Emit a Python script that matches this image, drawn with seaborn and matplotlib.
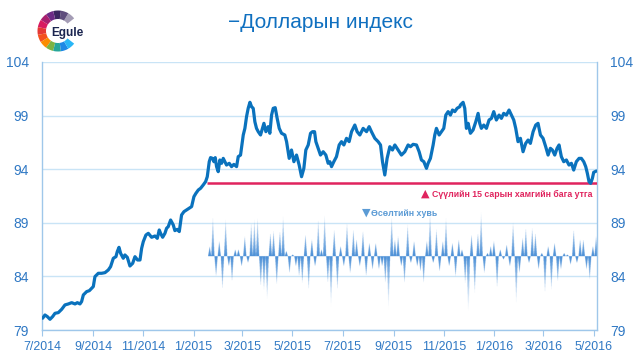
import matplotlib
matplotlib.use("Agg")
import matplotlib.pyplot as plt
import matplotlib.dates as mdates
from matplotlib.patches import Wedge
import numpy as np
import pandas as pd
import seaborn as sns

# ---------------- data ----------------
# Dollar index: days since 2014-07-01 and value
dxy_start = "2014-07-01"
dxy_day = [0.8, 3.6, 6.5, 9.7, 12.9, 15.8, 19.8, 23.9, 27.9, 32.0, 36.0, 40.1, 42.9, 46.1, 48.1, 50.2,
           54.2, 57.5, 60.3, 62.3, 64.3, 68.4, 72.4, 76.5, 80.5, 83.3, 86.6, 89.8, 91.4, 93.5, 95.5,
           98.7, 100.7, 103.6, 106.8, 110.1, 112.9, 116.1, 119.0, 121.0, 123.0, 126.2, 129.1, 133.1,
           137.2, 140.0, 142.4, 144.0, 146.5, 149.3, 151.3, 153.3, 156.2, 159.4, 161.4, 164.3, 166.7,
           169.5, 172.4, 175.6, 178.8, 181.7, 184.5, 186.9, 189.8, 192.6, 195.8, 198.7,
           200.7, 203.1, 204.7, 207.1, 208.8, 210.4, 212.0, 214.0, 216.0, 218.1, 220.1, 222.1, 224.1,
           227.4, 230.2, 233.0, 236.3, 238.3, 241.1, 244.4, 246.4, 248.4, 250.4, 252.5, 254.5, 256.5,
           258.5, 260.5, 262.6, 265.4, 267.8, 269.5, 271.9, 274.7, 276.7, 278.8, 280.8, 283.2, 285.6,
           288.1, 290.9, 294.9, 297.0, 300.2, 303.0, 305.9, 309.1, 312.3, 315.2, 318.0, 320.4, 323.3,
           326.1, 328.5, 331.0, 332.6, 335.4, 338.2, 341.5, 344.7, 347.5,
           349.6, 351.6, 354.4, 357.6, 360.9, 363.7, 366.6, 369.8, 373.0, 375.9, 379.9, 382.7, 386.0,
           390.0, 394.1, 397.3, 400.1, 404.2, 408.2, 411.1, 413.5, 416.3, 419.1, 422.4, 425.6, 428.5,
           432.5, 436.5, 440.6, 444.6, 447.5, 450.7, 454.8, 458.0, 460.8, 463.7, 466.9, 468.9, 471.7,
           475.0, 477.0, 479.0, 482.3, 485.1, 487.9, 490.4, 493.2, 496.0, 498.5, 501.3, 504.1, 507.4,
           508.1, 511.4, 513.4, 515.4, 517.5, 520.3, 523.5, 526.8, 529.6, 531.6, 533.6, 536.5, 539.7,
           542.9, 545.8, 548.6, 551.8, 555.1, 557.9, 560.7, 564.0, 567.2, 570.1, 572.9, 575.3, 578.1,
           581.0, 584.2, 587.4, 590.3, 593.1, 596.4, 599.6, 602.4, 605.3, 608.5, 611.7, 614.6, 617.4,
           619.8, 622.7, 625.5, 627.9, 630.7, 633.6, 636.8, 640.0, 642.9, 645.7, 648.9, 652.2, 655.0,
           657.9, 660.3, 662.3, 664.3, 666.3, 668.4, 670.0, 673.2]
dxy_value = [80.10, 80.40, 80.25, 80.00, 80.25, 80.56, 80.62, 80.93, 81.34, 81.43, 81.55, 81.43, 81.55,
             81.43, 81.65, 82.27, 82.58, 82.67, 82.89, 83.05, 83.98, 84.29, 84.29, 84.35, 84.60, 84.91,
             85.69, 85.84, 86.31, 86.71, 86.15, 85.69, 86.00, 85.78, 84.97, 85.22, 85.84, 85.53, 85.53,
             86.62, 87.24, 87.86, 88.02, 87.65, 87.77, 87.55, 88.33, 88.02, 87.65, 88.02, 88.49, 88.64,
             89.26, 88.80, 88.27, 88.39, 88.18, 89.73, 90.04, 90.20, 90.35, 90.51, 91.44, 91.75, 92.06,
             92.22, 92.53, 92.84,
             93.30, 94.70, 95.08, 95.01, 94.70, 95.08, 94.24, 93.77, 94.86, 94.55, 95.01, 94.70, 94.39,
             94.55, 94.24, 94.45, 94.24, 95.17, 95.32, 97.19, 97.81, 98.90, 99.68, 100.24, 99.83, 99.68,
             98.43, 97.81, 97.50, 97.19, 97.81, 98.28, 97.50, 97.97, 97.35, 99.05, 99.68, 99.74, 98.74,
             97.81, 97.35, 97.19, 96.57, 95.01, 95.79, 94.70, 95.32, 94.39, 93.30, 94.08, 95.79, 96.26,
             97.35, 97.50, 97.50, 96.57, 95.95, 95.32, 95.63, 95.32, 94.55,
             94.70, 94.24, 94.70, 95.17, 96.26, 96.57, 96.26, 96.88, 96.57, 97.50, 98.12, 97.50, 97.19,
             97.81, 97.50, 97.97, 97.50, 96.88, 96.57, 96.26, 94.70, 93.46, 95.01, 96.10, 95.79, 96.26,
             95.79, 95.32, 95.63, 96.26, 96.10, 96.32, 96.26, 95.63, 94.86, 94.70, 94.08, 94.55, 95.01,
             96.26, 97.19, 97.81, 97.19, 97.50, 97.81, 99.05, 99.37, 99.05, 99.52, 99.37, 99.68, 99.83,
             99.99, 100.24, 99.68, 97.81, 98.28, 97.35, 97.66, 98.43, 99.21, 98.28, 97.81, 98.12, 97.81,
             98.59, 98.74, 99.37, 98.59, 99.05, 98.74, 99.21, 99.05, 99.52, 99.05, 98.59, 97.81, 96.57,
             96.88, 95.63, 96.41, 96.72, 96.41, 97.50, 98.12, 98.28, 97.19, 96.88, 96.10, 95.32, 95.95,
             95.79, 95.32, 95.95, 96.26, 95.17, 94.70, 94.86, 94.39, 94.55, 93.92, 94.70, 95.01, 95.01,
             94.70, 94.24, 93.61, 92.84, 92.68, 93.15, 93.71, 93.83]

# growth (%) series, from 2015-01-21 to 2016-05-04
growth_start, growth_end = "2015-01-21", "2016-05-04"
growth_pct = [0.30, 1.24, -0.62, 0.47, -1.03, 1.14, -0.31, -0.78, 0.21, 0.21,
              -0.31, 0.62, -0.20, 1.04, 1.14, 1.19, -0.93, -1.04, -1.35, 0.72,
              0.78, -0.88, 0.78, 1.24, 0.16, -0.52, 0.05, -0.31, -0.62, -0.83,
              0.67, -1.04, 0.52, -0.31, 1.14, 0.21, 1.29, -0.83, -1.61, 0.83,
              -1.04, 0.31, -0.31, 1.04, -0.52, 0.83, 0.52, -0.31, 0.78, -0.62,
              0.41, -0.41, 0.41, -0.41, -0.31, -0.83, -1.71, 1.24, 0.52, 0.62,
              -0.31, -0.83, 0.98, -0.21, 0.47, -0.31, -0.47, -0.83, 0.47, 1.40,
              -0.21, 0.83, -0.47, 0.47, 1.19, -0.31, 0.41, -0.62, 0.52, 0.21,
              -0.83, -2.22, 0.67, -1.14, 0.72, 1.40, -0.52, 0.10, 0.31, 0.47,
              -0.98, 0.21, -0.10, 0.36, -0.31, 1.04, -1.50, -0.52, 0.57, 0.88,
              -0.21, 0.88, 0.72, -0.41, 0.10, -1.14, 0.31, -1.04, 0.41, -0.78,
              -0.41, 0.10, 0.05, -0.26, 0.83, -0.21, 0.52, 0.52, -0.41, -0.72,
              0.31, 0.62]

low_value = 92.68
low_start = "2015-01-17"

title = "\u2212Долларын индекс"
low_label = "Сүүлийн 15 сарын хамгийн бага утга"
growth_label = "Өсөлтийн хувь"
y_ticks = [79, 84, 89, 94, 99, 104]
x_tick_dates = ["2014-07-01","2014-09-01","2014-11-01","2015-01-01","2015-03-01","2015-05-01",
                "2015-07-01","2015-09-01","2015-11-01","2016-01-01","2016-03-01","2016-05-01"]

# ---------------- style ----------------
sns.set_style("white")
plt.rcParams["font.family"] = ["Liberation Sans", "DejaVu Sans"]

LINE = "#0a72bd"
TICK = "#2f78c4"
GRID = "#c9e4f6"
SPINE = "#9fc7ea"
MAG = "#e0245e"
GBLUE = "#5b9bd5"

fig = plt.figure(figsize=(6.4, 3.63), dpi=100)
ax = fig.add_axes([42/640, 33/363, 555/640, 268/363])

dates = pd.Timestamp(dxy_start) + pd.to_timedelta(dxy_day, unit="D")
df = pd.DataFrame({"date": dates, "value": dxy_value})
sns.lineplot(data=df, x="date", y="value", ax=ax, color=LINE, linewidth=2.3, zorder=5)

# growth spikes drawn as a gradient image (peak per value, ramps to the baseline)
base = 85.85
k = 3.0
gdates = pd.date_range(growth_start, growth_end, periods=len(growth_pct))
xs = mdates.date2num(gdates)
step = xs[1] - xs[0]
px, py = [], []
for x, v in zip(xs, growth_pct):
    px += [x - 0.5 * step, x, x + 0.5 * step]
    py += [base, base + k * v, base]
px = np.array(px); py = np.array(py)
order = np.argsort(px, kind="stable")
x0e, x1e = px.min(), px.max()
ncol, ny = 2400, 500
y0e, y1e = 78.9, 90.6
xc = np.linspace(x0e, x1e, ncol)
yc = np.linspace(y0e, y1e, ny)
prof = np.interp(xc, px[order], py[order])
Y = yc[:, None]
inside = ((Y >= base) & (Y <= prof[None, :])) | ((Y <= base) & (Y >= prof[None, :]))
fade = np.clip(1 - np.abs(yc - base) / 5.2, 0, 1) ** 1.2
img = np.zeros((ny, ncol, 4))
img[..., 0] = 0.29
img[..., 1] = 0.56
img[..., 2] = 0.84
img[..., 3] = inside * fade[:, None]
ax.imshow(img, extent=[x0e, x1e, y0e, y1e], origin="lower", aspect="auto", zorder=2,
          interpolation="antialiased")

# lowest value line
x_left = mdates.date2num(pd.Timestamp("2014-07-01"))
x_right = mdates.date2num(pd.Timestamp("2016-05-05"))
ax.hlines(low_value, mdates.date2num(pd.Timestamp(low_start)), x_right, color=MAG, linewidth=1.8, zorder=4)

ax.set_xlim(x_left, x_right)
ax.set_ylim(79, 104)
ax.set_yticks(y_ticks)
ax.set_yticklabels([str(t) for t in y_ticks])
xt = pd.to_datetime(x_tick_dates)
ax.set_xticks(mdates.date2num(xt))
ax.set_xticklabels([f"{d.month}/{d.year}" for d in xt])
ax.grid(axis="y", color=GRID, linewidth=1.0)
ax.grid(axis="x", visible=False)
ax.set_xlabel("")
ax.set_ylabel("")
for s in ["left", "right", "bottom"]:
    ax.spines[s].set_visible(True)
    ax.spines[s].set_color(SPINE)
    ax.spines[s].set_linewidth(1.0)
ax.spines["top"].set_visible(False)
ax.tick_params(axis="y", which="both", left=False, right=False, labelleft=True, labelright=True,
               labelsize=10, colors=TICK, pad=6)
ax.tick_params(axis="x", bottom=True, length=4, color=SPINE, labelsize=8.9, labelcolor=TICK, pad=4)

# annotations
renderer = fig.canvas.get_renderer()
t1 = ax.text(0.991, 91.65, low_label, transform=ax.get_yaxis_transform(), ha="right", va="center",
             fontsize=6.3, fontweight="bold", color=MAG)
bb = t1.get_window_extent(renderer).transformed(ax.transAxes.inverted())
ax.text(bb.x0 - 0.004, 91.75, "\u25B2", transform=ax.get_yaxis_transform(), ha="right", va="center",
        fontsize=8, color=MAG, family="DejaVu Sans")

gx = mdates.date2num(pd.Timestamp("2015-07-24"))
ax.text(gx, 89.95, "\u25BC", ha="left", va="center", fontsize=8, color=GBLUE, family="DejaVu Sans")
ax.text(gx + 11, 89.85, growth_label, ha="left", va="center", fontsize=6.3, fontweight="bold",
        color=GBLUE)

fig.text(0.5, 1 - 22/363, title, ha="center", va="center", fontsize=15, color="#1070c0")

# logo
lax = fig.add_axes([(58-25)/640, (363-31-25)/363, 50/640, 50/363])
lax.set_xlim(-25, 25)
lax.set_ylim(-25, 25)
lax.axis("off")
cols = ["#a49cb5", "#5f4d7d", "#3a2560", "#6c2a86", "#a8206f", "#d81b60", "#e53935",
        "#f4511e", "#fb8c00", "#7cb342", "#26a69a", "#1e88e5", "#29b6f6"]
a0, a1 = 38, 322
n = len(cols)
for i, c in enumerate(cols):
    th0 = a0 + (a1 - a0) * i / n
    th1 = a0 + (a1 - a0) * (i + 1) / n
    lax.add_patch(Wedge((0, 0), 20.5, th0, th1, width=8.5, facecolor=c, edgecolor="none"))
fig.text(67/640, 1 - 33/363, "Egule", ha="center", va="center", fontsize=8.5, fontweight="bold",
         color="#1b2550")

fig.savefig("out.png", dpi=100)
